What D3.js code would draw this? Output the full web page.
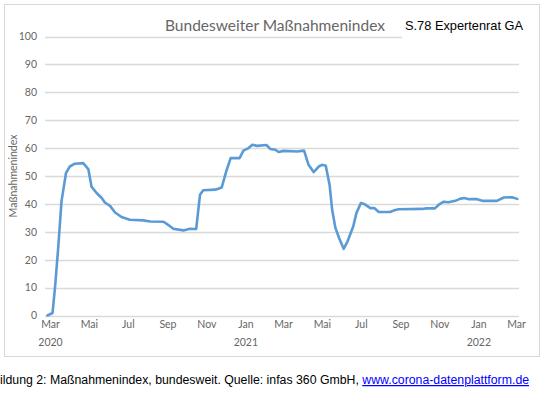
<!DOCTYPE html>
<html><head><meta charset="utf-8">
<script src="https://cdn.jsdelivr.net/npm/d3@7"></script>
<style>
body{margin:0;background:#fff;}
svg{display:block;}
</style></head>
<body>
<svg id="c" width="550" height="393"></svg>
<script>
const dates = ["2020-02-26","2020-03-05","2020-03-09","2020-03-14","2020-03-19","2020-03-26","2020-04-01","2020-04-09","2020-04-22","2020-04-30",
"2020-05-05","2020-05-13","2020-05-21","2020-05-26","2020-06-03","2020-06-11","2020-06-21","2020-07-04","2020-07-25","2020-08-05",
"2020-08-26","2020-09-02","2020-09-10","2020-09-26","2020-10-06","2020-10-16","2020-10-22","2020-10-27","2020-11-15","2020-11-25",
"2020-12-02","2020-12-09","2020-12-23","2020-12-29","2021-01-06","2021-01-12","2021-01-19","2021-02-03","2021-02-09","2021-02-17",
"2021-02-22","2021-03-02","2021-03-23","2021-04-03","2021-04-10","2021-04-18","2021-04-26","2021-05-01","2021-05-07","2021-05-13",
"2021-05-17","2021-05-22","2021-05-28","2021-06-04","2021-06-10","2021-06-19","2021-06-24","2021-07-01","2021-07-06","2021-07-16",
"2021-07-22","2021-07-29","2021-08-16","2021-08-21","2021-08-29","2021-10-05","2021-10-12","2021-10-25","2021-10-31","2021-11-08",
"2021-11-15","2021-11-26","2021-12-03","2021-12-10","2021-12-17","2021-12-30","2022-01-07","2022-01-30","2022-02-10","2022-02-23","2022-03-03"];
const values = [0,0.9,10.4,24.7,40.9,51,53.4,54.4,54.6,52.5,
46.2,43.9,42.1,40.5,39.3,36.9,35.3,34.3,34.1,33.7,
33.6,32.5,31.1,30.5,31.1,31.0,43.3,44.9,45.1,45.9,
51.6,56.4,56.4,59.1,60,61.2,60.8,61.1,59.7,59.4,
58.6,59,58.8,59.1,54,51.4,53.4,54,53.7,46.8,
37.9,31.5,27.7,23.9,26.5,31.9,36.7,40.3,40,38.5,
38.5,37.1,37.1,37.6,38.1,38.2,38.4,38.4,39.7,40.8,
40.6,41.1,41.8,42.1,41.7,41.7,41.1,41.1,42.3,42.4,41.8];
const yTicks = [0,10,20,30,40,50,60,70,80,90,100];
const monthNames = ["Jan","Feb","Mar","Apr","Mai","Jun","Jul","Aug","Sep","Okt","Nov","Dez"];
const title = "Bundesweiter Maßnahmenindex";
const yTitle = "Maßnahmenindex";
const note = "S.78 Expertenrat GA";
const captionText = "ildung 2: Maßnahmenindex, bundesweit. Quelle: infas 360 GmbH, ";
const captionLink = "www.corona-datenplattform.de";

const parse = d3.utcParse("%Y-%m-%d");
const data = dates.map((d,i)=>({date:parse(d), value:values[i]}));

const svg = d3.select("#c");
const font = "Lato, 'Open Sans', sans-serif";
const gray = "#666666";

// chart border
svg.append("rect").attr("x",4.5).attr("y",4.5).attr("width",535).attr("height",352)
  .attr("fill","#fff").attr("stroke","#d9d9d9").attr("stroke-width",1);

const x = d3.scaleUtc().domain([parse("2020-03-01"), parse("2022-03-01")]).range([50,516]);
const y = d3.scaleLinear().domain([0,100]).range([315.5,36.5]);
const gridX0 = 45, gridX1 = 519;

// gridlines
svg.append("g").selectAll("line").data(yTicks).join("line")
  .attr("x1",gridX0).attr("x2",gridX1)
  .attr("y1",d=>Math.round(y(d))+0.5).attr("y2",d=>Math.round(y(d))+0.5)
  .attr("stroke","#d9d9d9").attr("stroke-width",1.3);

// y labels
const yAxis = d3.axisLeft(y).tickValues(yTicks).tickSize(0).tickPadding(0);
const gy = svg.append("g").attr("transform","translate(37,0)").call(yAxis);
gy.select(".domain").remove();
gy.selectAll("text").attr("fill",gray).attr("font-family",font).attr("font-size",10.5);

// x labels
const xTicks = d3.utcMonth.range(parse("2020-03-01"), parse("2022-03-02"), 2);
const xAxis = d3.axisBottom(x).tickValues(xTicks).tickSize(0).tickPadding(0)
  .tickFormat(d=>monthNames[d.getUTCMonth()]);
const gx = svg.append("g").attr("transform","translate(0,321)").call(xAxis);
gx.select(".domain").remove();
gx.selectAll("text").attr("fill",gray).attr("font-family",font).attr("font-size",10.5);
gx.selectAll(".tick").each(function(d){
  const isYear = (d.getUTCMonth()===0) || (+d===+parse("2020-03-01"));
  if(isYear){
    d3.select(this).append("text").attr("y",18).attr("dy","0.71em")
      .attr("fill",gray).attr("font-family",font).attr("font-size",10.5)
      .attr("text-anchor","middle").text(d.getUTCFullYear());
  }
});

// line
const line = d3.line().x(d=>x(d.date)).y(d=>y(d.value)).curve(d3.curveLinear);
svg.append("path").datum(data).attr("d",line).attr("fill","none")
  .attr("stroke","#5b9bd5").attr("stroke-width",2.6).attr("stroke-linejoin","round").attr("stroke-linecap","round");

// y title
svg.append("text").attr("transform","translate(17,176) rotate(-90)")
  .attr("text-anchor","middle").attr("fill",gray).attr("font-family",font).attr("font-size",10.5)
  .text(yTitle);

// title
svg.append("text").attr("x",275).attr("y",31).attr("text-anchor","middle")
  .attr("fill",gray).attr("font-family",font).attr("font-size",15.5).text(title);

// note box
svg.append("rect").attr("x",402).attr("y",14).attr("width",128).attr("height",26).attr("fill","#fff");
svg.append("text").attr("x",405).attr("y",30).attr("fill","#000")
  .attr("font-family","'Liberation Sans', Arial, sans-serif").attr("font-size",12.8).text(note);

// caption
const cap = svg.append("text").attr("x",0).attr("y",384)
  .attr("font-family","'Liberation Sans', Arial, sans-serif").attr("font-size",12.3).attr("fill","#000");
cap.append("tspan").text(captionText);
cap.append("tspan").attr("fill","#0000ff").attr("text-decoration","underline").text(captionLink);
</script>
</body></html>
